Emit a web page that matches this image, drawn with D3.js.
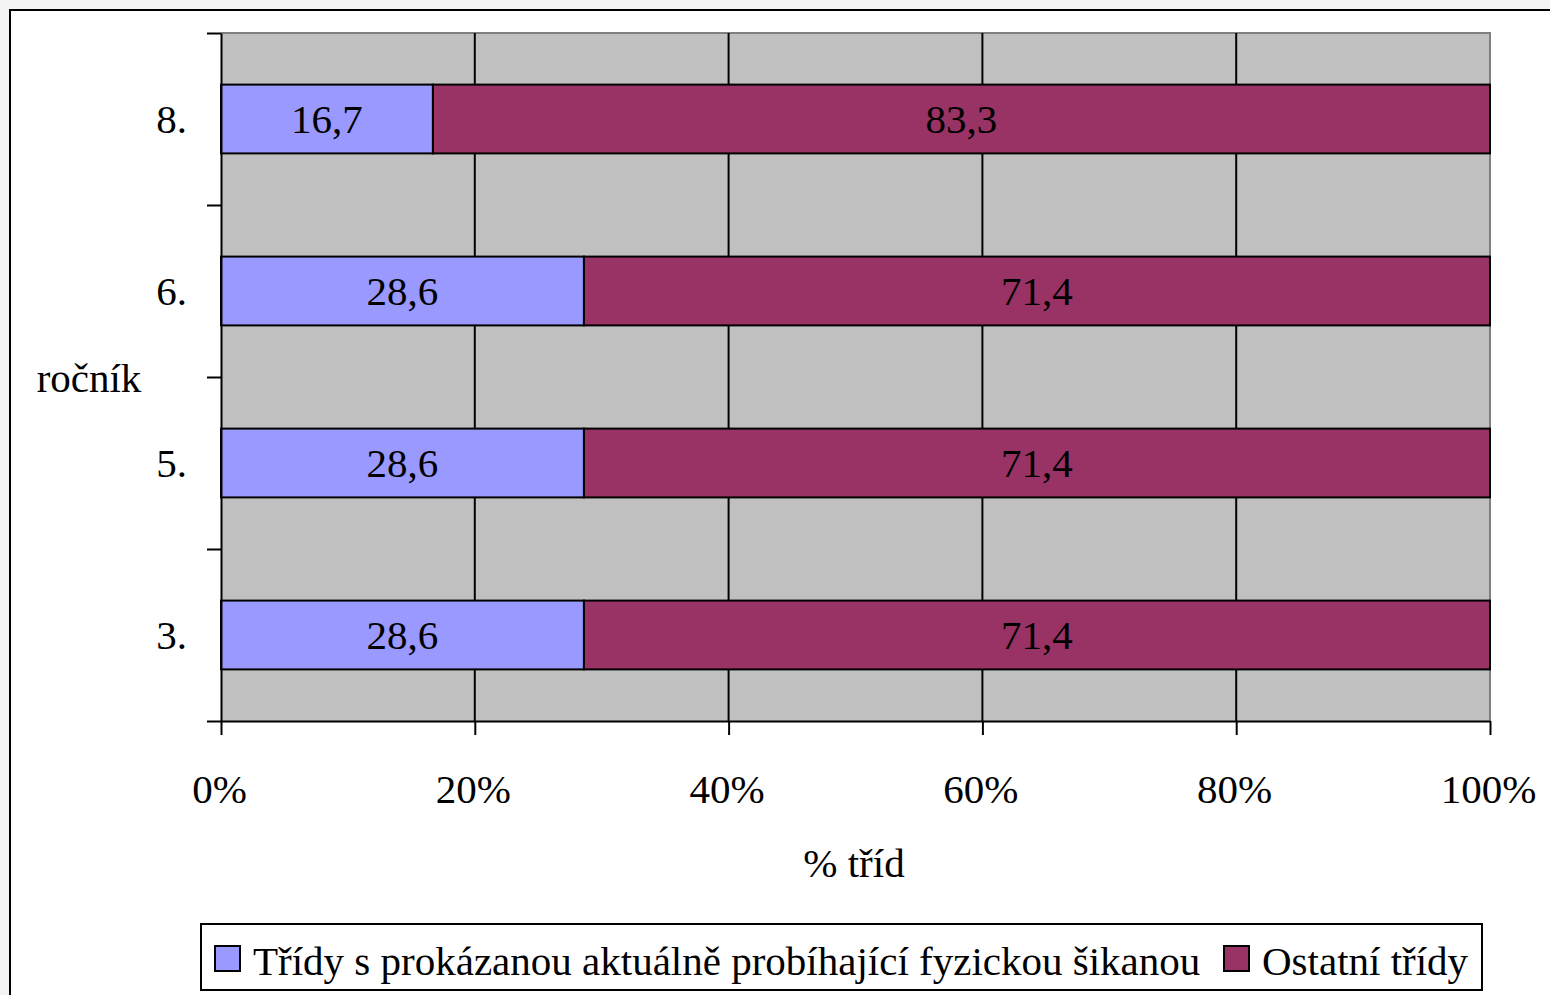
<!DOCTYPE html>
<html><head><meta charset="utf-8">
<script src="https://cdn.jsdelivr.net/npm/d3@7"></script>
<style>html,body{margin:0;padding:0;background:#f4f4f4;overflow:hidden}</style>
</head><body><svg id="c" width="1550" height="995"></svg>
<script>
const categories = ["3.","5.","6.","8."];
const seriesNames = ["Třídy s prokázanou aktuálně probíhající fyzickou šikanou","Ostatní třídy"];
const bullying = [28.6,28.6,28.6,16.7];
const others = [71.4,71.4,71.4,83.3];
const xTicks = [0,20,40,60,80,100];
const colors = ["#9999ff","#993366"];
const FONT = "'Liberation Serif','Times New Roman',serif";
const FS = 41;

const svg = d3.select("#c");
svg.append("rect").attr("x",10).attr("y",10).attr("width",1600).attr("height",1100)
  .attr("fill","#fff").attr("stroke","#000").attr("stroke-width",2);

const L=221,R=1490,T=33,B=721;
const x = d3.scaleLinear().domain([0,100]).range([L,R]);
const y = d3.scaleBand().domain(categories.slice().reverse()).range([T,B]).paddingInner(0.6).paddingOuter(0.3);

svg.append("rect").attr("x",L).attr("y",T).attr("width",R-L).attr("height",B-T).attr("fill","#c0c0c0");
svg.append("path").attr("d",`M${L},${T}H${R}V${B}`).attr("fill","none").attr("stroke","#808080").attr("stroke-width",2);

svg.append("g").selectAll("line").data(xTicks.filter(d=>d>0&&d<100)).join("line")
  .attr("x1",d=>x(d)).attr("x2",d=>x(d)).attr("y1",T).attr("y2",B)
  .attr("stroke","#000").attr("stroke-width",2);

const rows = categories.map((c,i)=>({c, v:[bullying[i],others[i]]}));
const g = svg.append("g");
rows.forEach(r=>{
  let acc=0;
  r.v.forEach((v,k)=>{
    const x0=x(acc), x1=x(acc+v);
    g.append("rect").attr("x",x0).attr("y",y(r.c)).attr("width",x1-x0).attr("height",y.bandwidth())
      .attr("fill",colors[k]).attr("stroke","#000").attr("stroke-width",2);
    g.append("text").attr("x",(x0+x1)/2).attr("y",y(r.c)+y.bandwidth()/2).attr("dy","0.35em")
      .attr("text-anchor","middle").attr("font-family",FONT).attr("font-size",FS).attr("fill","#000")
      .text(String(v).replace(".",","));
    acc+=v;
  });
});

const xa = svg.append("g").attr("transform",`translate(0,${B})`)
  .call(d3.axisBottom(x).tickValues(xTicks).tickFormat(d=>d+"%").tickSize(14).tickPadding(39).tickSizeOuter(0));
xa.select(".domain").attr("stroke","#000").attr("stroke-width",2);
xa.selectAll(".tick line").attr("stroke","#000").attr("stroke-width",2);
xa.selectAll("text").attr("font-family",FONT).attr("font-size",FS).attr("fill","#000").attr("dx","-2");

const yb = d3.scaleLinear().domain([0,categories.length]).range([B,T]);
const ya = svg.append("g").attr("transform",`translate(${L},0)`)
  .call(d3.axisLeft(yb).ticks(categories.length).tickFormat("").tickSize(14).tickSizeOuter(0));
ya.select(".domain").attr("stroke","#000").attr("stroke-width",2);
ya.selectAll(".tick line").attr("stroke","#000").attr("stroke-width",2);
svg.append("g").selectAll("text").data(categories).join("text")
  .attr("x",187).attr("y",d=>y(d)+y.bandwidth()/2).attr("dy","0.35em").attr("text-anchor","end")
  .attr("font-family",FONT).attr("font-size",FS).attr("fill","#000").text(d=>d);

svg.append("text").attr("x",89).attr("y",378).attr("dy","0.35em").attr("text-anchor","middle")
  .attr("font-family",FONT).attr("font-size",FS).text("ročník");
svg.append("text").attr("x",854).attr("y",877).attr("text-anchor","middle")
  .attr("font-family",FONT).attr("font-size",FS).text("% tříd");

const lg = svg.append("g");
lg.append("rect").attr("x",201).attr("y",924).attr("width",1281).attr("height",66)
  .attr("fill","#fff").attr("stroke","#000").attr("stroke-width",2);
const legX=[215,1224];
seriesNames.forEach((n,i)=>{
  lg.append("rect").attr("x",legX[i]).attr("y",946).attr("width",25).attr("height",25)
    .attr("fill",colors[i]).attr("stroke","#000").attr("stroke-width",2);
  lg.append("text").attr("x",legX[i]+38).attr("y",975).attr("font-family",FONT).attr("font-size",FS).text(n);
});
</script></body></html>
